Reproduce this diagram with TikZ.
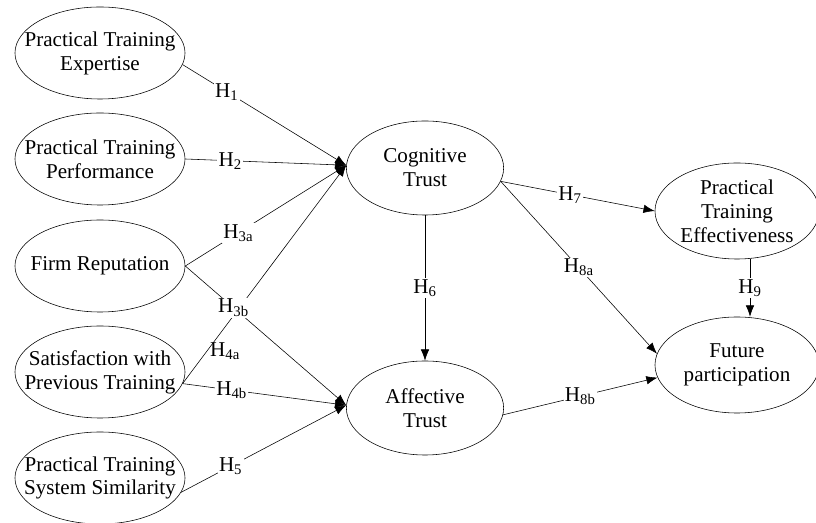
\documentclass[tikz,border=0pt]{standalone}
\usepackage{fontspec}
\setmainfont{Liberation Serif}
\usetikzlibrary{arrows.meta,shapes.geometric}
\newcommand{\hyp}[1]{H\textsubscript{#1}}
\tikzset{
  construct/.style={ellipse,draw,align=center,inner xsep=-0.45cm,inner ysep=-0.1cm,
    minimum width=4.25cm,minimum height=2.3cm},
  trust/.style={construct,minimum width=3.93cm,minimum height=2.35cm},
  outcome/.style={construct,minimum width=4.1cm,minimum height=2.4cm},
  hlabel/.style={fill=white,inner sep=1pt}
}

\begin{document}
\begin{tikzpicture}[->,>={Latex[length=8pt,width=6pt]},x=0.025cm,y=-0.025cm,
    font=\fontsize{15}{17}\selectfont]
  \useasboundingbox (0,0) rectangle (816,523);
  \node[construct] (expertise) at (100,53) {Practical Training\\Expertise};
  \node[construct] (performance) at (100,159) {Practical Training\\Performance};
  \node[construct] (reputation) at (100,266) {Firm Reputation};
  \node[construct] (satisfaction) at (100,372) {Satisfaction with\\Previous Training};
  \node[construct] (similarity) at (100,478) {Practical Training\\System Similarity};
  \node[trust] (cognitive) at (425,168) {Cognitive\\Trust};
  \node[trust] (affective) at (425,408) {Affective\\Trust};
  \node[outcome] (effectiveness) at (737,211) {Practical\\Training\\Effectiveness};
  \node[outcome] (future) at (737,365) {Future\\participation};
  \path (expertise.-8) edge node[hlabel,pos=.27] {\hyp{1}} (cognitive.178);
  \path (performance.east) edge node[hlabel,pos=.28] {\hyp{2}} (cognitive.178);
  \path (reputation.east) edge node[hlabel,pos=.33] {\hyp{3a}} (cognitive.178);
  \path (satisfaction.-8) edge node[pos=.15,right,inner sep=2pt] {\hyp{4a}} (cognitive.178);
  \path (reputation.east) edge node[hlabel,pos=.3] {\hyp{3b}} (affective.178);
  \path (satisfaction.-8) edge node[hlabel,pos=.3] {\hyp{4b}} (affective.178);
  \path (similarity.-10) edge node[hlabel,pos=.3] {\hyp{5}} (affective.178);
  \path (cognitive.south) edge node[hlabel] {\hyp{6}} (affective.north);
  \path (cognitive.-10) edge node[hlabel,pos=.45] {\hyp{7}} (effectiveness.west);
  \path (cognitive.-10) edge node[hlabel] {\hyp{8a}} (future.172);
  \path (affective.-5) edge node[hlabel] {\hyp{8b}} (future.189);
  \path ([xshift=0.325cm]effectiveness.south) edge node[hlabel] {\hyp{9}} ([xshift=0.325cm]future.north);
\end{tikzpicture}
\end{document}
